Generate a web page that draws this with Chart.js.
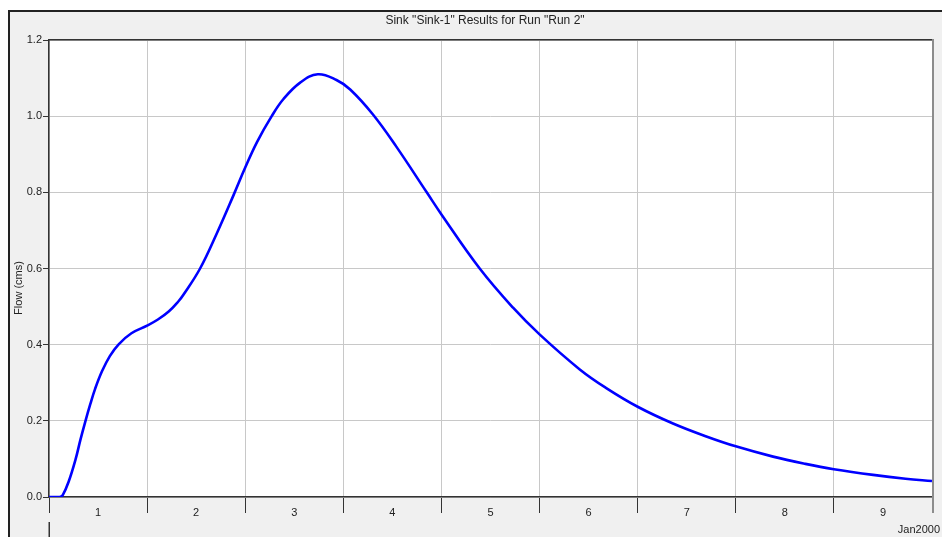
<!DOCTYPE html>
<html><head><meta charset="utf-8">
<script src="https://cdn.jsdelivr.net/npm/chart.js@4/dist/chart.umd.min.js"></script>
<style>html,body{margin:0;padding:0;background:#fff;overflow:hidden}canvas{display:block}</style>
</head><body>
<canvas id="c" width="942" height="537"></canvas>
<script>
const titleText = 'Sink "Sink-1" Results for Run "Run 2"';
const yAxisTitle = 'Flow (cms)';
const dateLabel = 'Jan2000';
const dayLabels = ['1','2','3','4','5','6','7','8','9'];
const yTicks = [0, 0.2, 0.4, 0.6, 0.8, 1.0, 1.2];
const timeDays = [0, 0.05, 0.11, 0.14, 0.2, 0.27, 0.32, 0.37, 0.42, 0.47, 0.54, 0.62, 0.71, 0.84, 1.0, 1.11, 1.22, 1.32, 1.37, 1.54, 1.71, 1.88, 2.0, 2.12, 2.27, 2.39, 2.56, 2.74, 2.93, 3.07, 3.30, 3.54, 3.85, 4.0, 4.39, 4.73, 5.0, 5.41, 5.68, 6.0, 6.36, 6.7, 7.0, 7.38, 7.71, 8.0, 8.4, 8.73, 9.0];
const flowCms = [0, 0, 0, 0.005, 0.040, 0.098, 0.150, 0.198, 0.243, 0.284, 0.330, 0.370, 0.401, 0.430, 0.450, 0.466, 0.487, 0.514, 0.531, 0.600, 0.692, 0.792, 0.865, 0.932, 1.0, 1.045, 1.088, 1.110, 1.095, 1.070, 1.005, 0.920, 0.800, 0.742, 0.600, 0.497, 0.427, 0.335, 0.286, 0.237, 0.193, 0.159, 0.133, 0.106, 0.087, 0.073, 0.058, 0.048, 0.042];

const FONT = "'Liberation Sans', Arial, sans-serif";
const points = timeDays.map((t, i) => ({x: t, y: flowCms[i]}));

const framePlugin = {
  id: 'frame',
  beforeDraw(chart) {
    const ctx = chart.ctx, a = chart.chartArea;
    ctx.save();
    ctx.fillStyle = '#ffffff';
    ctx.fillRect(0, 0, chart.width, chart.height);
    ctx.fillStyle = '#f0f0f0';
    ctx.fillRect(9, 11, chart.width - 9, chart.height - 11);
    ctx.fillStyle = '#222222';
    ctx.fillRect(8, 10, chart.width - 8, 2);
    ctx.fillRect(8, 10, 2, chart.height - 10);
    ctx.fillStyle = '#ffffff';
    ctx.fillRect(a.left, a.top, a.right - a.left, a.bottom - a.top);
    ctx.fillStyle = '#222222';
    ctx.font = '12px ' + FONT;
    ctx.textAlign = 'center';
    ctx.textBaseline = 'middle';
    ctx.fillText(titleText, 485, 20.5);
    ctx.restore();
  },
  afterDraw(chart) {
    const ctx = chart.ctx, a = chart.chartArea;
    ctx.save();
    ctx.fillStyle = '#333333';
    ctx.fillRect(a.left, a.top - 1, a.right - a.left, 1.5);
    ctx.fillStyle = '#8c8c8c';
    ctx.fillRect(a.right, a.top - 1, 2, a.bottom - a.top + 17);
    ctx.fillStyle = '#333333';
    ctx.fillRect(a.left - 0.5, 522, 1.5, chart.height - 522);
    ctx.fillStyle = '#222222';
    ctx.font = '11px ' + FONT;
    ctx.textAlign = 'right';
    ctx.textBaseline = 'alphabetic';
    ctx.fillText(dateLabel, 940, 533);
    ctx.translate(19, 288);
    ctx.rotate(-Math.PI / 2);
    ctx.textAlign = 'center';
    ctx.textBaseline = 'middle';
    ctx.fillText(yAxisTitle, 0, 0);
    ctx.restore();
  }
};

new Chart(document.getElementById('c'), {
  type: 'line',
  data: {
    datasets: [{
      label: 'Flow',
      data: points,
      borderColor: '#0000ff',
      borderWidth: 2.6,
      pointRadius: 0,
      fill: false,
      tension: 0.4
    }]
  },
  options: {
    responsive: false,
    devicePixelRatio: 1,
    animation: false,
    layout: {padding: {left: 9, right: 10, top: 40, bottom: 0}},
    plugins: {
      legend: {display: false},
      tooltip: {enabled: false},
      title: {display: false}
    },
    scales: {
      x: {
        type: 'linear',
        min: 0,
        max: 9,
        afterFit(s) { s.height = 40; },
        afterBuildTicks(s) {
          const t = [];
          for (let v = 0; v <= 18; v++) t.push({value: v / 2});
          s.ticks = t;
        },
        ticks: {
          autoSkip: false,
          maxRotation: 0,
          color: '#222222',
          font: {family: FONT, size: 11},
          padding: -7,
          callback(v) {
            const i = Math.floor(v);
            return (v % 1 !== 0 && i < dayLabels.length) ? dayLabels[i] : '';
          }
        },
        grid: {
          color: (c) => (c.tick && c.tick.value % 1 === 0) ? '#c8c8c8' : 'rgba(0,0,0,0)',
          tickColor: (c) => (c.tick && c.tick.value % 1 === 0) ? '#333333' : 'rgba(0,0,0,0)',
          tickLength: 16,
          lineWidth: 1
        },
        border: {display: true, color: '#333333', width: 1.5}
      },
      y: {
        min: 0,
        max: 1.2,
        afterFit(s) { s.width = 40; },
        afterBuildTicks(s) { s.ticks = yTicks.map(v => ({value: v})); },
        ticks: {
          color: '#222222',
          font: {family: FONT, size: 11},
          padding: 1,
          callback(v) { return Number(v).toFixed(1); }
        },
        grid: {
          color: '#c8c8c8',
          tickColor: '#333333',
          tickLength: 6,
          lineWidth: 1
        },
        border: {display: true, color: '#333333', width: 1.5}
      }
    }
  },
  plugins: [framePlugin]
});
</script>
</body></html>
